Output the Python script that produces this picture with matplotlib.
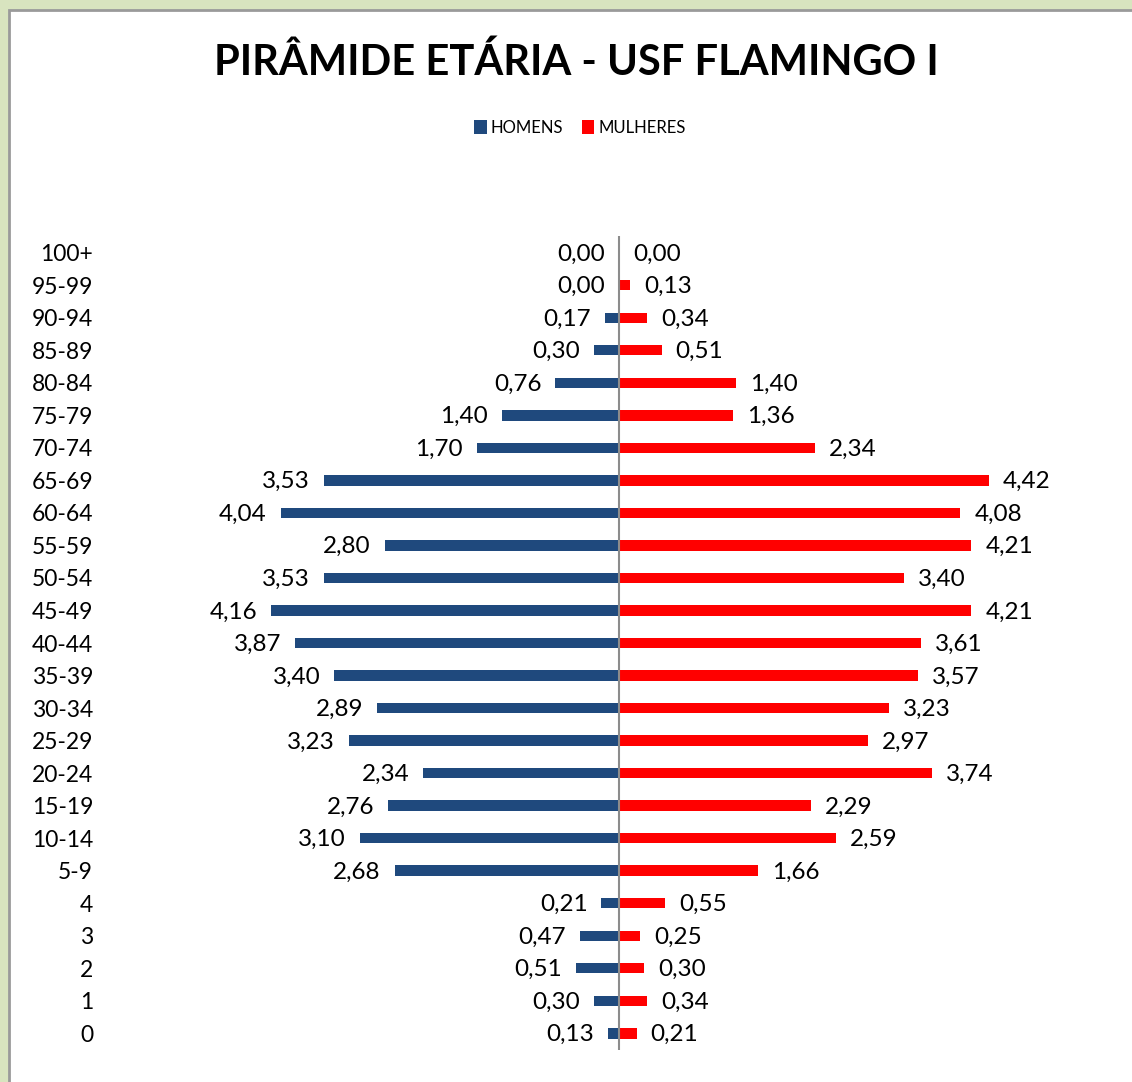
import numpy as np
import matplotlib.pyplot as plt
from matplotlib.patches import Rectangle

plt.rcParams['font.family'] = ['Lato', 'DejaVu Sans']

# faixas etárias, de baixo para cima
faixas = ['0', '1', '2', '3', '4', '5-9', '10-14', '15-19', '20-24', '25-29',
          '30-34', '35-39', '40-44', '45-49', '50-54', '55-59', '60-64', '65-69',
          '70-74', '75-79', '80-84', '85-89', '90-94', '95-99', '100+']
homens = [0.13, 0.30, 0.51, 0.47, 0.21, 2.68, 3.10, 2.76, 2.34, 3.23,
          2.89, 3.40, 3.87, 4.16, 3.53, 2.80, 4.04, 3.53,
          1.70, 1.40, 0.76, 0.30, 0.17, 0.00, 0.00]
mulheres = [0.21, 0.34, 0.30, 0.25, 0.55, 1.66, 2.59, 2.29, 3.74, 2.97,
            3.23, 3.57, 3.61, 4.21, 3.40, 4.21, 4.08, 4.42,
            2.34, 1.36, 1.40, 0.51, 0.34, 0.13, 0.00]

cor_h = '#1F497D'
cor_m = '#FF0000'

W, H = 1132, 1082
fig = plt.figure(figsize=(W / 100, H / 100), dpi=100)
fig.patch.set_facecolor('#d8e4bf')
fig.patches.append(Rectangle((9 / W, -0.05), 1.1, 1.05 - 10 / H, transform=fig.transFigure,
                             facecolor='white', edgecolor='#9a9a9a', linewidth=2, zorder=-10))

# eixo: centro em x=619px, linhas de 251 a 1033px
left, right = 100, 1100
bottom, top = 1049.6, 236.4
ax = fig.add_axes([left / W, 1 - bottom / H, (right - left) / W, (bottom - top) / H])
ax.set_facecolor('none')
esc = 83.7
ax.set_xlim(-(619 - left) / esc, (right - 619) / esc)
ax.set_ylim(-0.5, len(faixas) - 0.5)

y = np.arange(len(faixas))
ax.barh(y, -np.array(homens), height=0.32, color=cor_h, label='HOMENS')
ax.barh(y, mulheres, height=0.32, color=cor_m, label='MULHERES')
ax.axvline(0, color='#8c8c8c', linewidth=1.5)

for yi, h, m in zip(y, homens, mulheres):
    ax.annotate(f'{h:.2f}'.replace('.', ','), (-h, yi), xytext=(-10, -1),
                textcoords='offset points', ha='right', va='center', fontsize=17.5)
    ax.annotate(f'{m:.2f}'.replace('.', ','), (m, yi), xytext=(10, -1),
                textcoords='offset points', ha='left', va='center', fontsize=17.5)

ax.set_yticks(y)
ax.set_yticklabels(faixas, fontsize=16.5)
ax.tick_params(axis='y', length=0, pad=5)
ax.set_xticks([])
for s in ax.spines.values():
    s.set_visible(False)

fig.text(576 / W, 1 - 62 / H, 'PIRÂMIDE ETÁRIA - USF FLAMINGO I',
         ha='center', va='center', fontsize=30, fontweight='bold')
fig.legend(loc='center', bbox_to_anchor=(580 / W, 1 - 128 / H), ncol=2, frameon=False,
           fontsize=12, handlelength=0.75, handleheight=0.9, handletextpad=0.25,
           columnspacing=1.1)

fig.savefig('out.png', dpi=100)
